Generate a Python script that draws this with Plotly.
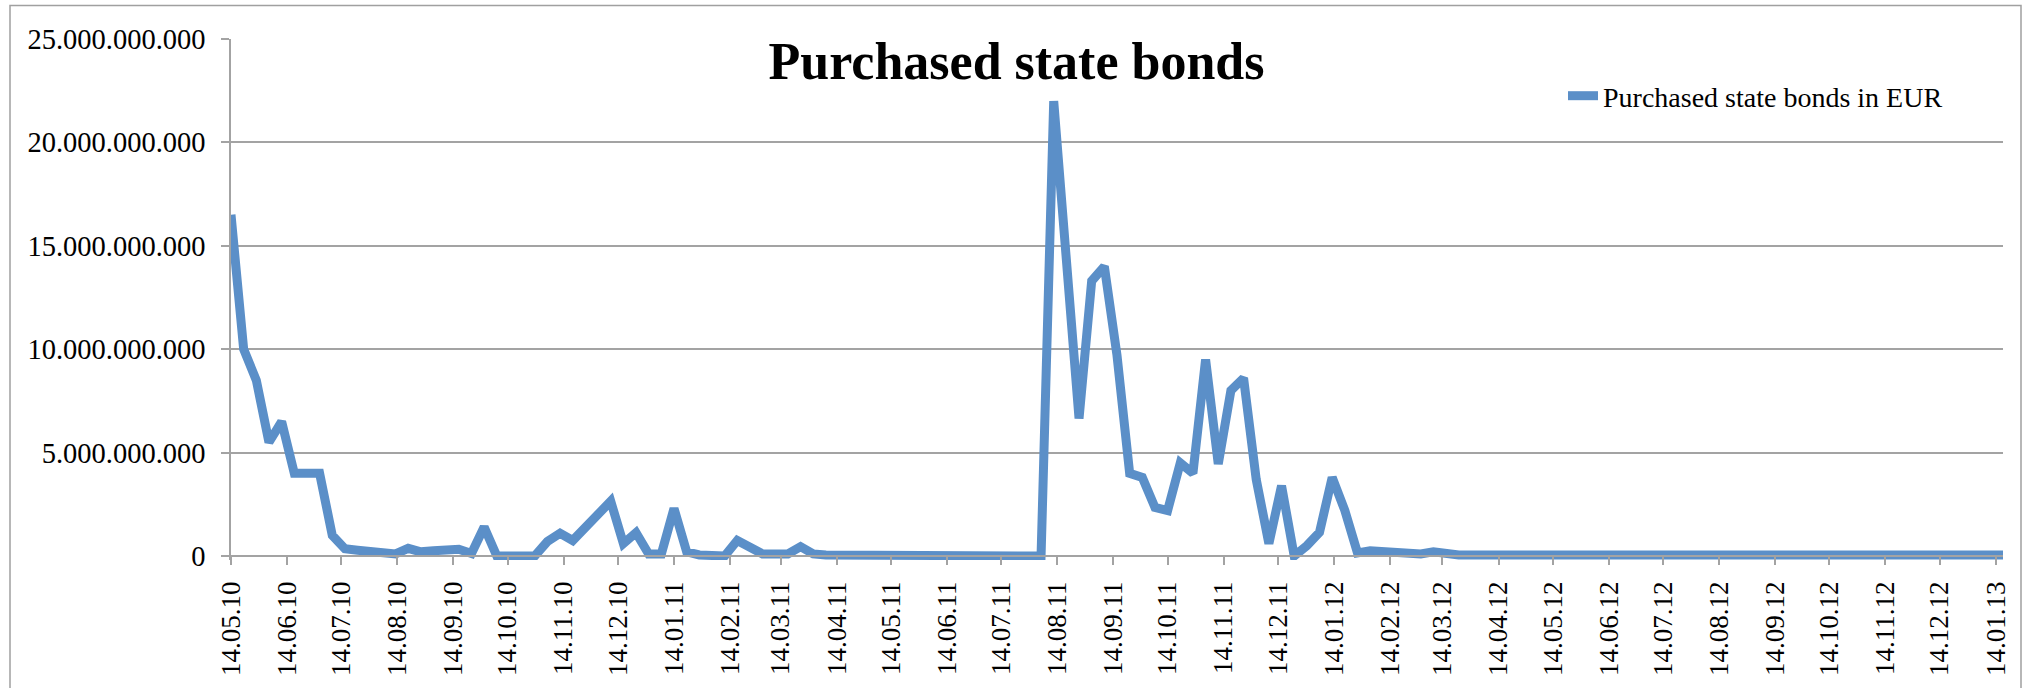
import pandas as pd
import plotly.graph_objects as go

# weekly SMP settlements (Fridays), in billion EUR
start_date = "2010-05-14"
bonds_bn = [
    16.5, 10.0, 8.5, 5.5, 6.5, 4.0, 4.0, 4.0, 1.0, 0.35,
    0.28, 0.2, 0.12, 0.1, 0.37, 0.2, 0.25, 0.3, 0.33, 0.12,
    1.4, 0.0, 0.0, 0.0, 0.0, 0.7, 1.1, 0.75, 1.35, 2.0,
    2.65, 0.6, 1.13, 0.1, 0.1, 2.3, 0.2, 0.05, 0.0, 0.0,
    0.75, 0.45, 0.1, 0.1, 0.1, 0.45, 0.1, 0.05, 0.05, 0.05,
    0.05, 0.05, 0.05, 0.05, 0.05, 0.05, 0.05, 0.05, 0.05, 0.05,
    0.05, 0.05, 0.05, 0.05, 0.0, 22.0, 14.3, 6.65, 13.3, 14.0,
    9.7, 4.0, 3.8, 2.35, 2.2, 4.5, 4.0, 9.5, 4.45, 8.0,
    8.6, 3.7, 0.6, 3.4, 0.0, 0.5, 1.15, 3.8, 2.2, 0.15,
    0.25, 0.2, 0.12, 0.1, 0.1, 0.2, 0.1, 0.05, 0.05, 0.05,
    0.05, 0.05, 0.05, 0.05, 0.05, 0.05, 0.05, 0.05, 0.05, 0.05,
    0.05, 0.05, 0.05, 0.05, 0.05, 0.05, 0.05, 0.05, 0.05, 0.05,
    0.05, 0.05, 0.05, 0.05, 0.05, 0.05, 0.05, 0.05, 0.05, 0.05,
    0.05, 0.05, 0.05, 0.05, 0.05, 0.05, 0.05, 0.05, 0.05, 0.05,
    0.05,
]
y_ticks = [0, 5e9, 10e9, 15e9, 20e9, 25e9]
series_name = "Purchased state bonds in EUR"
title_text = "Purchased state bonds"

weeks = pd.date_range(start=start_date, periods=len(bonds_bn), freq="7D")
bonds_eur = [v * 1e9 for v in bonds_bn]

# pixel layout of the original chart
W, H = 2033, 688
L, R = 231, 2003
T, ZERO, BOT = 39, 556, 560
plot_w, plot_h = R - L, BOT - T
y_max = 25e9
y_min = -(BOT - ZERO) / (ZERO - T) * y_max

def px_x(p):
    return (p - L) / plot_w

def px_y(p):
    return (BOT - p) / plot_h

serif = "Liberation Serif"
grey = "#a3a3a3"
blue = "#5b8fc8"

fig = go.Figure()
fig.add_trace(go.Scatter(x=weeks, y=bonds_eur, mode="lines", name=series_name,
                         line=dict(color=blue, width=9)))

fig.update_layout(
    width=W, height=H,
    margin=dict(l=L, r=W - R, t=T, b=H - BOT),
    paper_bgcolor="white", plot_bgcolor="white",
    separators=",.",
    showlegend=True,
    title=dict(text=title_text, x=0.5, xref="container", xanchor="center",
               y=1 - 61 / H, yanchor="middle",
               font=dict(family=serif, size=52, color="black", weight="bold")),
    legend=dict(x=px_x(1563), xanchor="left", y=px_y(96), yanchor="middle",
                bgcolor="rgba(0,0,0,0)", font=dict(family=serif, size=28, color="black")),
    font=dict(family=serif, color="black"),
    shapes=[dict(type="rect", xref="paper", yref="paper",
                 x0=px_x(10), x1=px_x(2021), y0=px_y(720), y1=px_y(5.5),
                 line=dict(color="#a0a0a0", width=1.5), fillcolor="rgba(0,0,0,0)", layer="below")],
)

fig.update_xaxes(
    type="date", range=[weeks[0], weeks[-1]],
    anchor="free", position=px_y(ZERO),
    tick0=start_date, dtick="M1", tickformat="%d.%m.%y", tickangle=-90,
    ticks="outside", ticklen=8, tickcolor=grey, tickwidth=1.5,
    ticklabelstandoff=6,
    tickfont=dict(family=serif, size=27, color="black"),
    showgrid=False, showline=True, linecolor=grey, linewidth=1.5,
)
fig.update_yaxes(
    range=[y_min, y_max], tickvals=y_ticks, tickformat=",.0f",
    ticks="outside", ticklen=8, tickcolor=grey, tickwidth=1.5,
    ticklabelstandoff=10,
    tickfont=dict(family=serif, size=28.5, color="black"),
    showgrid=True, gridcolor=grey, gridwidth=1.5,
    zeroline=True, zerolinecolor=grey, zerolinewidth=1.5,
    showline=True, linecolor=grey, linewidth=1.5,
)

fig.write_html("out.html", config={"displayModeBar": False},
               post_script="document.body.style.margin='0px';")
